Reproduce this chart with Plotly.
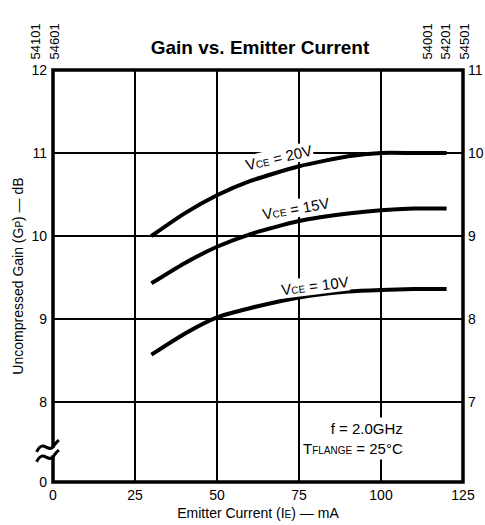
import plotly.graph_objects as go

# Emitter current (mA) sample points along each curve
current_ma = [30, 40, 50, 60, 75, 90, 100, 110, 120]

# Uncompressed gain (dB) for each collector-emitter voltage
gain_vce_20 = [10.00, 10.27, 10.49, 10.66, 10.84, 10.96, 11.00, 11.00, 11.00]
gain_vce_15 = [9.43, 9.67, 9.87, 10.02, 10.18, 10.27, 10.31, 10.33, 10.33]
gain_vce_10 = [8.57, 8.82, 9.02, 9.13, 9.26, 9.33, 9.35, 9.36, 9.36]

x_ticks = [0, 25, 50, 75, 100, 125]
left_ticks = [8, 9, 10, 11, 12]
right_ticks = [7, 8, 9, 10, 11]

X_MIN, X_MAX = 0, 125
Y_BOTTOM = 7.036   # broken axis: bottom edge is labelled 0
Y_TOP = 12.0
RIGHT_OFFSET = 1.0  # right scale reads one unit lower

W, H = 485, 525
M_L, M_R, M_T, M_B = 53, 22, 70, 43
PLOT_W, PLOT_H = W - M_L - M_R, H - M_T - M_B

FONT = "Liberation Sans, Arial, sans-serif"
SMALL = '<span style="font-size:10px">{}</span>'


def px(xv):
    """x data value -> paper fraction"""
    return (xv - X_MIN) / (X_MAX - X_MIN)


def py(yv):
    """y data value -> paper fraction"""
    return (yv - Y_BOTTOM) / (Y_TOP - Y_BOTTOM)


fig = go.Figure()

for gain in (gain_vce_20, gain_vce_15, gain_vce_10):
    fig.add_trace(go.Scatter(
        x=current_ma, y=gain, mode="lines",
        line=dict(color="black", width=4, shape="spline", smoothing=0.6),
        showlegend=False, hoverinfo="skip",
    ))

# curve labels, placed relative to the curve they name
labels = [
    ("20V", 69, gain_vce_20, 0.10, -13),
    ("15V", 74, gain_vce_15, 0.15, -10),
    ("10V", 80, gain_vce_10, 0.14, -7),
]
for volts, xm, series, dy, ang in labels:
    yv = series[current_ma.index(min(current_ma, key=lambda c: abs(c - xm)))]
    fig.add_annotation(
        x=xm, y=yv + dy, xref="x", yref="y",
        text="V" + SMALL.format("CE") + " = " + volts,
        showarrow=False, textangle=ang, bgcolor="white", borderpad=0,
        font=dict(family=FONT, size=15, color="black"),
    )

# test conditions
fig.add_annotation(
    x=107.5, y=7.56, xref="x", yref="y", xanchor="right",
    text="f = 2.0GHz<br>T" + SMALL.format("FLANGE") + " = 25°C",
    showarrow=False, align="right", bgcolor="white", borderpad=2,
    font=dict(family=FONT, size=15, color="black"),
)

# heavy frame around the plotting area
fig.add_shape(type="rect", xref="paper", yref="paper", x0=0, y0=0, x1=1, y1=1,
              layer="above", line=dict(color="black", width=3.5))

# axis break marker on the left scale
fig.add_shape(type="path", xref="paper", yref="paper", layer="above",
              path=(f"M {px(-5.2):.4f},{py(7.36):.4f} L {px(1.8):.4f},{py(7.47):.4f} "
                    f"L {px(1.8):.4f},{py(7.39):.4f} L {px(-5.2):.4f},{py(7.28):.4f} Z"),
              fillcolor="white", line=dict(width=0))
for yb in (7.44, 7.32):
    fig.add_shape(
        type="path", xref="paper", yref="paper", layer="above",
        path=(f"M {px(-5):.4f},{py(yb - 0.04):.4f} "
              f"C {px(-3):.4f},{py(yb + 0.12):.4f} {px(-1.5):.4f},{py(yb - 0.06):.4f} "
              f"{px(0):.4f},{py(yb + 0.02):.4f} "
              f"S {px(1.2):.4f},{py(yb + 0.08):.4f} {px(1.8):.4f},{py(yb + 0.10):.4f}"),
        line=dict(color="black", width=3),
    )

# part numbers printed vertically at the top corners
for txt, xpix in (("54101", 25), ("54601", 44), ("54001", 436), ("54201", 454), ("54501", 473)):
    fig.add_annotation(
        x=(xpix - M_L) / PLOT_W, y=(H - M_B - 22) / PLOT_H, xref="paper", yref="paper",
        text=txt, textangle=-90, showarrow=False,
        font=dict(family=FONT, size=13, color="black"),
    )

fig.update_layout(
    width=W, height=H,
    margin=dict(l=M_L, r=M_R, t=M_T, b=M_B),
    paper_bgcolor="white", plot_bgcolor="white",
    title=dict(text="<b>Gain vs. Emitter Current</b>", x=260 / W, xanchor="center",
               y=1 - 47 / H, yanchor="middle",
               font=dict(family=FONT, size=19, color="black")),
    font=dict(family=FONT, size=14, color="black"),
    xaxis=dict(
        range=[X_MIN, X_MAX], tickvals=x_ticks, ticktext=[str(v) for v in x_ticks],
        showgrid=True, gridcolor="black", gridwidth=1.5, automargin=False,
        showline=False, ticks="", ticklabelstandoff=3, zeroline=False,
        title=dict(text="Emitter Current (I" + SMALL.format("E") + ") — mA",
                   font=dict(family=FONT, size=14), standoff=6),
    ),
    yaxis=dict(
        range=[Y_BOTTOM, Y_TOP], tickvals=[Y_BOTTOM] + left_ticks,
        ticktext=["0"] + [str(v) for v in left_ticks],
        showgrid=True, gridcolor="black", gridwidth=1.5, automargin=False,
        showline=False, ticks="", ticklabelstandoff=5, zeroline=False,
        title=dict(text="Uncompressed Gain (G" + SMALL.format("P") + ") — dB",
                   font=dict(family=FONT, size=14), standoff=4),
    ),
    yaxis2=dict(
        range=[Y_BOTTOM - RIGHT_OFFSET, Y_TOP - RIGHT_OFFSET],
        tickvals=right_ticks, ticktext=[str(v) for v in right_ticks],
        overlaying="y", side="right", showgrid=False, zeroline=False, automargin=False,
        showline=False, ticks="", ticklabelstandoff=4,
    ),
)

# invisible trace to activate the right-hand scale
fig.add_trace(go.Scatter(x=[None], y=[None], yaxis="y2", showlegend=False, hoverinfo="skip"))

fig.write_html("out.html")
